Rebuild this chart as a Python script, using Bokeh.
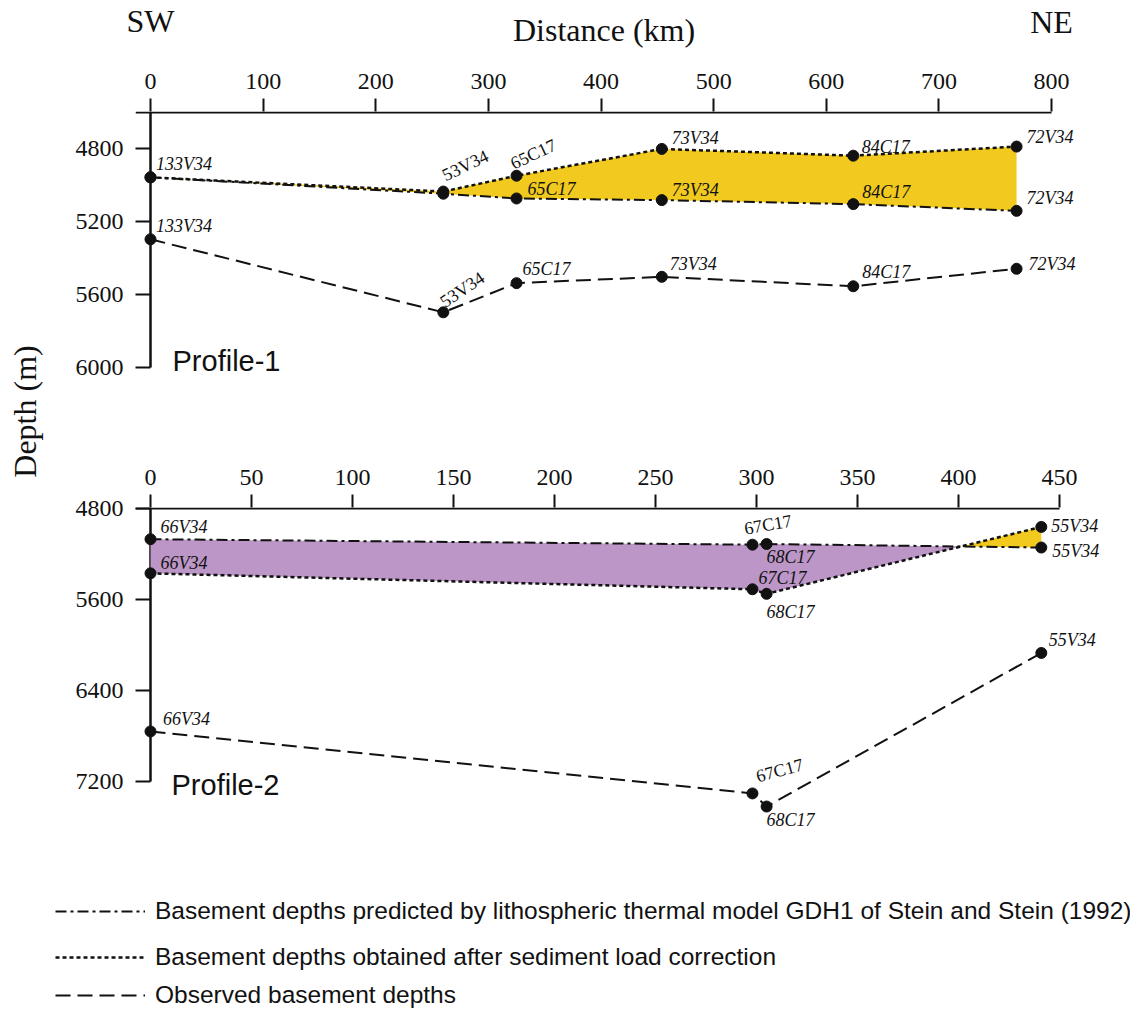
import numpy as np
from bokeh.plotting import figure
from bokeh.models import (Range1d, FixedTicker, ColumnDataSource, LabelSet, Label,
                          Legend, LegendItem)
from bokeh.layouts import column, row
from bokeh.embed import file_html
from bokeh.resources import INLINE
from bokeh.core.properties import value

# ------------------------------------------------------------------ data
p1_stations = ["133V34", "53V34", "65C17", "73V34", "84C17", "72V34"]
p1_distance = [0, 260, 325, 454, 624, 769]            # km
p1_model = [4956, 5046, 5072, 5081, 5103, 5140]        # m, GDH1 prediction
p1_corrected = [4956, 5034, 4947, 4800, 4837, 4787]    # m, sediment-load corrected
p1_observed = [5296, 5697, 5537, 5502, 5554, 5458]     # m, observed

p2_stations = ["66V34", "67C17", "68C17", "55V34"]
p2_distance = [0, 298, 305, 441]
p2_model = [5070, 5118, 5112, 5143]
p2_corrected = [5370, 5510, 5550, 4962]
p2_observed = [6760, 7305, 7420, 6070]

p1_x_ticks = [0, 100, 200, 300, 400, 500, 600, 700, 800]
p1_y_ticks = [4800, 5200, 5600, 6000]
p1_y_top = 4600
p2_x_ticks = [0, 50, 100, 150, 200, 250, 300, 350, 400, 450]
p2_y_ticks = [4800, 5600, 6400, 7200]
p2_y_top = 4800

header_texts = ["SW", "Distance (km)", "NE"]
legend_texts = [
    "Basement depths predicted by lithospheric thermal model GDH1 of Stein and Stein (1992)",
    "Basement depths obtained after sediment load correction",
    "Observed basement depths",
]

# ------------------------------------------------------------------ style
YELLOW = "#F1C91F"
PURPLE = "#BC96C6"
INK = "#111111"
SERIF = "Liberation Serif"
SANS = "Liberation Sans"
MODEL_STYLE = dict(line_dash="11 4 3 4", line_width=2.0, line_color=INK)
CORR_STYLE = dict(line_dash="4 3", line_width=2.5, line_color=INK)
OBS_STYLE = dict(line_dash="15 7", line_width=2.0, line_color=INK)

# label placement (series, station index, dx px, dy px (up), angle deg, font style)
P1_LABELS = [
    ("corrected", 0, 5.5, 7.5, 0, "italic"),
    ("corrected", 1, 2.5, 10, 25.7, "normal"),
    ("corrected", 2, -2.5, 6, 25, "normal"),
    ("model", 2, 11, 3, 0, "italic"),
    ("corrected", 3, 10, 4.5, 0, "italic"),
    ("model", 3, 10, 4.5, 0, "italic"),
    ("corrected", 4, 8.5, 2.4, 0, "italic"),
    ("model", 4, 9, 6, 0, "italic"),
    ("corrected", 5, 10, 4, 0, "italic"),
    ("model", 5, 10, 7, 0, "italic"),
    ("observed", 0, 5.5, 7.5, 0, "italic"),
    ("observed", 1, 2, 4, 34, "normal"),
    ("observed", 2, 6, 8.5, 0, "italic"),
    ("observed", 3, 8, 6.5, 0, "italic"),
    ("observed", 4, 9, 8, 0, "italic"),
    ("observed", 5, 12, -1, 0, "italic"),
]
P2_LABELS = [
    ("model", 0, 10, 6.5, 0, "italic"),
    ("corrected", 0, 10, 4, 0, "italic"),
    ("observed", 0, 12.5, 6.5, 0, "italic"),
    ("model", 1, -7, 10, 10, "normal"),
    ("model", 2, 0, -19.5, 0, "italic"),
    ("corrected", 1, 6, 5, 0, "italic"),
    ("corrected", 2, 0, -24, 0, "italic"),
    ("corrected", 3, 10, -5, 0, "italic"),
    ("model", 3, 11, -9.5, 0, "italic"),
    ("observed", 1, 5.5, 11, 15, "normal"),
    ("observed", 2, 0, -19, 0, "italic"),
    ("observed", 3, 7.5, 6.5, 0, "italic"),
]

# ------------------------------------------------------------------ geometry (page px)
TOTAL_W = 1130
LABEL_W = 50                       # column with "Depth (m)"
COL_W = TOTAL_W - LABEL_W
FRAME_LEFT, X0_PAGE, FRAME_RIGHT = 135, 150, 1125
HEAD_H = 50
P1_TOP, P1_H = HEAD_H, 390
P2_TOP, P2_H = P1_TOP + P1_H, 400
LEG_TOP, LEG_H = P2_TOP + P2_H, 172

P1_AXIS_Y, P1_LAST_TICK_Y, P1_RIGHT_TICK_X = 112, 367, 1051
P2_AXIS_Y, P2_LAST_TICK_Y, P2_RIGHT_TICK_X = 508, 781, 1059


def fill_between(p, x, model, corrected):
    """Purple where the corrected basement is deeper than the model, yellow where shallower."""
    x = np.asarray(x, float)
    a = np.asarray(model, float)
    b = np.asarray(corrected, float)
    xs, ya, yb = [x[0]], [a[0]], [b[0]]
    for i in range(len(x) - 1):
        d0, d1 = b[i] - a[i], b[i + 1] - a[i + 1]
        if d0 * d1 < 0:
            t = d0 / (d0 - d1)
            xc = x[i] + t * (x[i + 1] - x[i])
            yc = a[i] + t * (a[i + 1] - a[i])
            xs.append(xc); ya.append(yc); yb.append(yc)
        xs.append(x[i + 1]); ya.append(a[i + 1]); yb.append(b[i + 1])
    xs, ya, yb = map(np.array, (xs, ya, yb))
    d = yb - ya
    runs = []
    for k in range(len(xs) - 1):
        col = PURPLE if (d[k] + d[k + 1]) > 0 else YELLOW
        if runs and runs[-1][0] == col:
            runs[-1][2] = k + 1
        else:
            runs.append([col, k, k + 1])
    for col, i0, i1 in runs:
        p.varea(x=xs[i0:i1 + 1], y1=ya[i0:i1 + 1], y2=yb[i0:i1 + 1], fill_color=col)


def make_profile(dist, model, corrected, observed, stations, x_ticks, y_ticks, y_top,
                 fig_top, height, axis_y, last_tick_y, right_tick_x, frame_bottom,
                 labels_layout, two_colour):
    px_km = (right_tick_x - X0_PAGE) / (x_ticks[-1] - x_ticks[0])
    px_m = (last_tick_y - axis_y) / (y_ticks[-1] - y_top)
    frame_top = axis_y - 1
    x_start = x_ticks[0] - (X0_PAGE - FRAME_LEFT) / px_km
    x_end = x_ticks[0] + (FRAME_RIGHT - X0_PAGE) / px_km
    y_min = y_top - (axis_y - frame_top) / px_m
    y_max = y_top + (frame_bottom - axis_y) / px_m

    p = figure(width=COL_W, height=height, output_backend="svg", toolbar_location=None,
               x_range=Range1d(x_start, x_end), y_range=Range1d(y_max, y_min),
               x_axis_location="above",
               min_border_left=FRAME_LEFT - LABEL_W,
               min_border_right=TOTAL_W - FRAME_RIGHT,
               min_border_top=frame_top - fig_top,
               min_border_bottom=fig_top + height - frame_bottom)
    p.outline_line_color = None
    p.grid.visible = False

    xa = p.xaxis[0]
    xa.ticker = FixedTicker(ticks=x_ticks)
    xa.axis_line_color = None
    xa.major_tick_out = 13
    xa.major_tick_in = 0
    xa.minor_tick_line_color = None
    xa.major_tick_line_width = 2
    xa.major_tick_line_color = INK
    xa.major_label_text_font = SERIF
    xa.major_label_text_font_size = "24px"
    xa.major_label_text_color = INK
    xa.major_label_standoff = 10

    ya = p.yaxis[0]
    ya.ticker = FixedTicker(ticks=y_ticks)
    ya.axis_line_color = None
    ya.major_tick_in = X0_PAGE - FRAME_LEFT
    ya.major_tick_out = 0
    ya.minor_tick_line_color = None
    ya.major_tick_line_width = 2
    ya.major_tick_line_color = INK
    ya.major_label_text_font = SERIF
    ya.major_label_text_font_size = "24px"
    ya.major_label_text_color = INK
    ya.major_label_standoff = 12

    # axis lines: top one ends at the last distance tick, left one at the last depth tick
    p.segment(x0=[x_start], y0=[y_top], x1=[x_ticks[-1]], y1=[y_top],
              line_color=INK, line_width=2)
    p.segment(x0=[x_ticks[0]], y0=[y_top], x1=[x_ticks[0]], y1=[y_ticks[-1]],
              line_color=INK, line_width=2.5)

    if two_colour:
        fill_between(p, dist, model, corrected)
    else:
        p.varea(x=dist, y1=corrected, y2=model, fill_color=YELLOW)

    p.line(dist, model, **MODEL_STYLE)
    p.line(dist, corrected, **CORR_STYLE)
    p.line(dist, observed, **OBS_STYLE)
    for ser in (model, corrected, observed):
        p.scatter(dist, ser, marker="circle", size=11, fill_color=INK, line_color=INK)

    series_map = {"model": model, "corrected": corrected, "observed": observed}
    src = dict(x=[], y=[], text=[], dx=[], dy=[], angle=[], style=[])
    for ser, i, dx, dy, ang, style in labels_layout:
        src["x"].append(dist[i]); src["y"].append(series_map[ser][i])
        src["text"].append(stations[i]); src["dx"].append(dx); src["dy"].append(dy)
        src["angle"].append(np.deg2rad(ang)); src["style"].append(style)
    p.add_layout(LabelSet(x="x", y="y", text="text", x_offset="dx", y_offset="dy",
                          angle="angle", text_font_style="style",
                          text_font=value(SERIF), text_font_size=value("18px"),
                          text_color=value(INK), text_align=value("left"),
                          text_baseline=value("alphabetic"),
                          source=ColumnDataSource(src)))
    return p, px_km


p1, p1_px_km = make_profile(p1_distance, p1_model, p1_corrected, p1_observed, p1_stations,
                            p1_x_ticks, p1_y_ticks, p1_y_top, P1_TOP, P1_H,
                            P1_AXIS_Y, P1_LAST_TICK_Y, P1_RIGHT_TICK_X,
                            frame_bottom=430, labels_layout=P1_LABELS, two_colour=False)
p2, _ = make_profile(p2_distance, p2_model, p2_corrected, p2_observed, p2_stations,
                     p2_x_ticks, p2_y_ticks, p2_y_top, P2_TOP, P2_H,
                     P2_AXIS_Y, P2_LAST_TICK_Y, P2_RIGHT_TICK_X,
                     frame_bottom=835, labels_layout=P2_LABELS, two_colour=True)

p1.add_layout(Label(x=p1_x_ticks[0], y=p1_y_ticks[-1], x_offset=22, y_offset=7,
                    text="Profile-1", text_align="left", text_baseline="middle",
                    text_font=SANS, text_font_size="29px", text_color=INK))
p2.add_layout(Label(x=p2_x_ticks[0], y=p2_y_ticks[-1], x_offset=21, y_offset=-3,
                    text="Profile-2", text_align="left", text_baseline="middle",
                    text_font=SANS, text_font_size="29px", text_color=INK))

# header strip sharing the distance scale of profile 1 (y in page px, downwards)
ph = figure(width=COL_W, height=HEAD_H, output_backend="svg", toolbar_location=None,
            x_range=Range1d((LABEL_W - X0_PAGE) / p1_px_km, (TOTAL_W - X0_PAGE) / p1_px_km),
            y_range=Range1d(HEAD_H, 0), x_axis_location=None, y_axis_location=None,
            min_border_left=0, min_border_right=0, min_border_top=0, min_border_bottom=0,
            frame_align=False)
ph.outline_line_color = None
ph.grid.visible = False
for txt, xpos, cy, size in zip(header_texts,
                               (p1_x_ticks[0], (p1_x_ticks[0] + p1_x_ticks[-1]) / 2,
                                p1_x_ticks[-1]),
                               (20, 29, 21), ("32px", "32px", "32px")):
    ph.add_layout(Label(x=xpos, y=cy, x_offset=3 if txt.startswith("D") else 0,
                        text=txt, text_align="center",
                        text_baseline="middle", text_font=SERIF,
                        text_font_size=size, text_color=INK))

# left column with the shared y-axis title (y in page px, downwards)
LAB_H = HEAD_H + P1_H + P2_H
pl = figure(width=LABEL_W, height=LAB_H, output_backend="svg", toolbar_location=None,
            x_range=Range1d(0, LABEL_W), y_range=Range1d(LAB_H, 0),
            x_axis_location=None, y_axis_location=None,
            min_border_left=0, min_border_right=0, min_border_top=0, min_border_bottom=0,
            frame_align=False)
pl.outline_line_color = None
pl.grid.visible = False
pl.add_layout(Label(x=24, y=411, text="Depth (m)", angle=np.pi / 2,
                    text_align="center", text_baseline="middle", text_font=SERIF,
                    text_font_size="32px", text_color=INK))

# legend strip
pg = figure(width=TOTAL_W, height=LEG_H, output_backend="svg", toolbar_location=None,
            x_range=Range1d(0, 1), y_range=Range1d(0, 1),
            x_axis_location=None, y_axis_location=None,
            min_border_left=0, min_border_right=0, min_border_top=0, min_border_bottom=0,
            frame_align=False)
pg.outline_line_color = None
pg.grid.visible = False
leg_rows = [911, 957, 995]          # page y of each legend row centre
for txt, style, cy in zip(legend_texts, (MODEL_STYLE, CORR_STYLE, OBS_STYLE), leg_rows):
    # single-point line: draws nothing itself, only supplies the legend sample style
    r = pg.line(x=[0.5], y=[0.5], **style)
    lg = Legend(items=[LegendItem(label=txt, renderers=[r])],
                location=(55, LEG_TOP + LEG_H - cy - 14),
                border_line_color=None, background_fill_alpha=0, padding=0, margin=0,
                glyph_width=90, glyph_height=20, label_standoff=10,
                label_text_font=SANS, label_text_font_size="24.5px",
                label_text_color=INK, label_height=20)
    pg.add_layout(lg)

layout = column(row(pl, column(ph, p1, p2)), pg)
open("out.html", "w").write(file_html(layout, INLINE))
